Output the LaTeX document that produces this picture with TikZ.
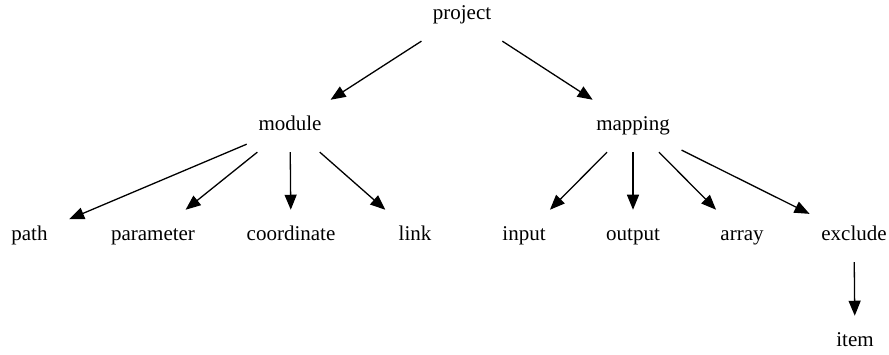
\documentclass[tikz,border=0pt]{standalone}
\usepackage{fontspec}
\setmainfont{Liberation Serif}
\usetikzlibrary{arrows.meta}
\begin{document}
\begin{tikzpicture}[x=1pt,y=-1pt,
  item/.style={rectangle, anchor=base, inner xsep=11.6pt, inner ysep=0pt,
    minimum width=79pt, minimum height=52pt,
    text height=14.7pt, text depth=4.6pt,
    font=\fontsize{21}{25}\selectfont},
  edge/.style={draw=black, line width=1.3pt,
    -{Triangle[length=15pt,width=12pt]}}]
\useasboundingbox (0,0) rectangle (889,355);

% top level
\node[item] (project) at (462,20) {project};

% second level
\node[item] (module)  at (290,131) {module};
\node[item] (mapping) at (633,131) {mapping};

% third level
\node[item] (path)       at (29.5,241) {path};
\node[item] (parameter)  at (153,241)  {parameter};
\node[item] (coordinate) at (291,241)  {coordinate};
\node[item] (link)       at (415,241)  {link};
\node[item] (input)      at (524,241)  {input};
\node[item] (output)     at (633,241)  {output};
\node[item] (array)      at (742,241)  {array};
\node[item] (exclude)    at (854,241)  {exclude};

% fourth level
\node[item] (itemnode) at (855,347) {item};

% connectors
\draw[edge] (project) -- (module);
\draw[edge] (project) -- (mapping);
\draw[edge] (module) -- (path);
\draw[edge] (module) -- (parameter);
\draw[edge] (module) -- (coordinate);
\draw[edge] (module) -- (link);
\draw[edge] (mapping) -- (input);
\draw[edge] (mapping) -- (output);
\draw[edge] (mapping) -- (array);
\draw[edge] (mapping) -- (exclude);
\draw[edge] (exclude) -- (itemnode);
\end{tikzpicture}
\end{document}
